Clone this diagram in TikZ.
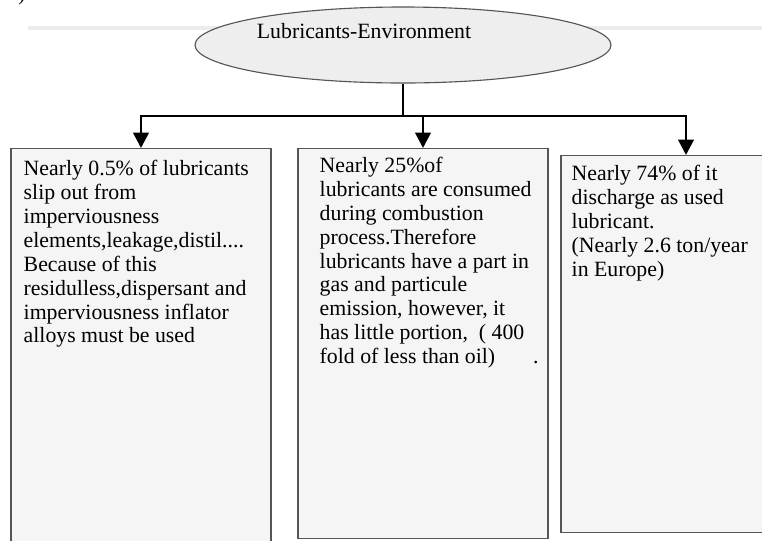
\documentclass[tikz,border=0pt]{standalone}
\usepackage{fontspec}
\setmainfont{Liberation Serif}
\usetikzlibrary{shapes.geometric}
\usetikzlibrary{arrows.meta}
\usetikzlibrary{calc}
\usepackage{xcolor}
\definecolor{boxgray}{HTML}{F5F5F5}
\definecolor{ellgray}{HTML}{EEEEEE}
\definecolor{rulegray}{HTML}{ECECEC}
\definecolor{edgegray}{HTML}{555555}

\begin{document}
\begin{tikzpicture}[>={Triangle[length=11pt,width=11pt]},
    infobox/.style={draw=edgegray, line width=0.8pt, fill=boxgray},
    infotext/.style={anchor=north west, inner sep=0pt, align=left,
      font=\fontsize{15.5}{17}\selectfont},
    link/.style={line width=2pt}]

      \pgfmathsetmacro{\titleY}{-1.125}
      \pgfmathsetmacro{\splitY}{-2.9}
      \pgfmathsetmacro{\boxY}{-3.7}

      \useasboundingbox (0,0) rectangle (19.05,-13.5);

      % faint rule behind the title
      \draw [rulegray, line width=2.8pt] (0.7,-0.7) -- (19.05,-0.7);
      \node [name=cutmark, anchor=base, font=\fontsize{15}{17}\selectfont] at (0.55,0) {)};

      % TITLE
      \node [name=env, ellipse, draw=edgegray, line width=0.8pt, fill=ellgray,
        minimum width=10.4cm, minimum height=1.9cm] at (10.075,\titleY) {};
      \node [name=envtext, font=\fontsize{15.5}{17}\selectfont]
        at ($(env.center)+(-0.975,0.345)$) {Lubricants-Environment};

      % boxes
      \node [name=lbox, infobox, anchor=north, minimum width=6.5cm,
        minimum height=9.925cm] at (3.525,\boxY) {};
      \node [name=mbox, infobox, anchor=north, minimum width=6.25cm,
        minimum height=9.75cm] at (10.575,\boxY) {};
      \node [name=rbox, infobox, anchor=north, minimum width=6.25cm,
        minimum height=9.425cm] at (17.15,-3.875) {};

      % texts
      \node [name=ltext, infotext] at ($(lbox.north west)+(0.325,-0.3)$)
      {Nearly 0.5\% of lubricants\\
        slip out from\\
        imperviousness\\
        elements,leakage,distil....\\
        Because of this\\
        residulless,dispersant and\\
        imperviousness inflator\\
        alloys must be used};

      \node [name=mtext, infotext] at ($(mbox.north west)+(0.55,-0.22)$)
      {Nearly 25\%of\\
        lubricants are consumed\\
        during combustion\\
        process.Therefore\\
        lubricants have a part in\\
        gas and particule\\
        emission, however, it\\
        has little portion,~~( 400\\
        fold of less than oil)\hspace{0.95cm}.};

      \node [name=rtext, infotext] at ($(rbox.north west)+(0.275,-0.25)$)
      {Nearly 74\% of it\\
        discharge as used\\
        lubricant.\\
        (Nearly 2.6 ton/year\\
        in Europe)};

      % connectors
      \coordinate (split) at (env.south |- 0,\splitY);
      \draw [link] (env.south) -- (split);
      \draw [link, ->] (split) -| (lbox.north);
      \draw [link, ->] (split) -| (mbox.north);
      \draw [link, ->] (split) -| (rbox.north);

    \end{tikzpicture}
\end{document}
